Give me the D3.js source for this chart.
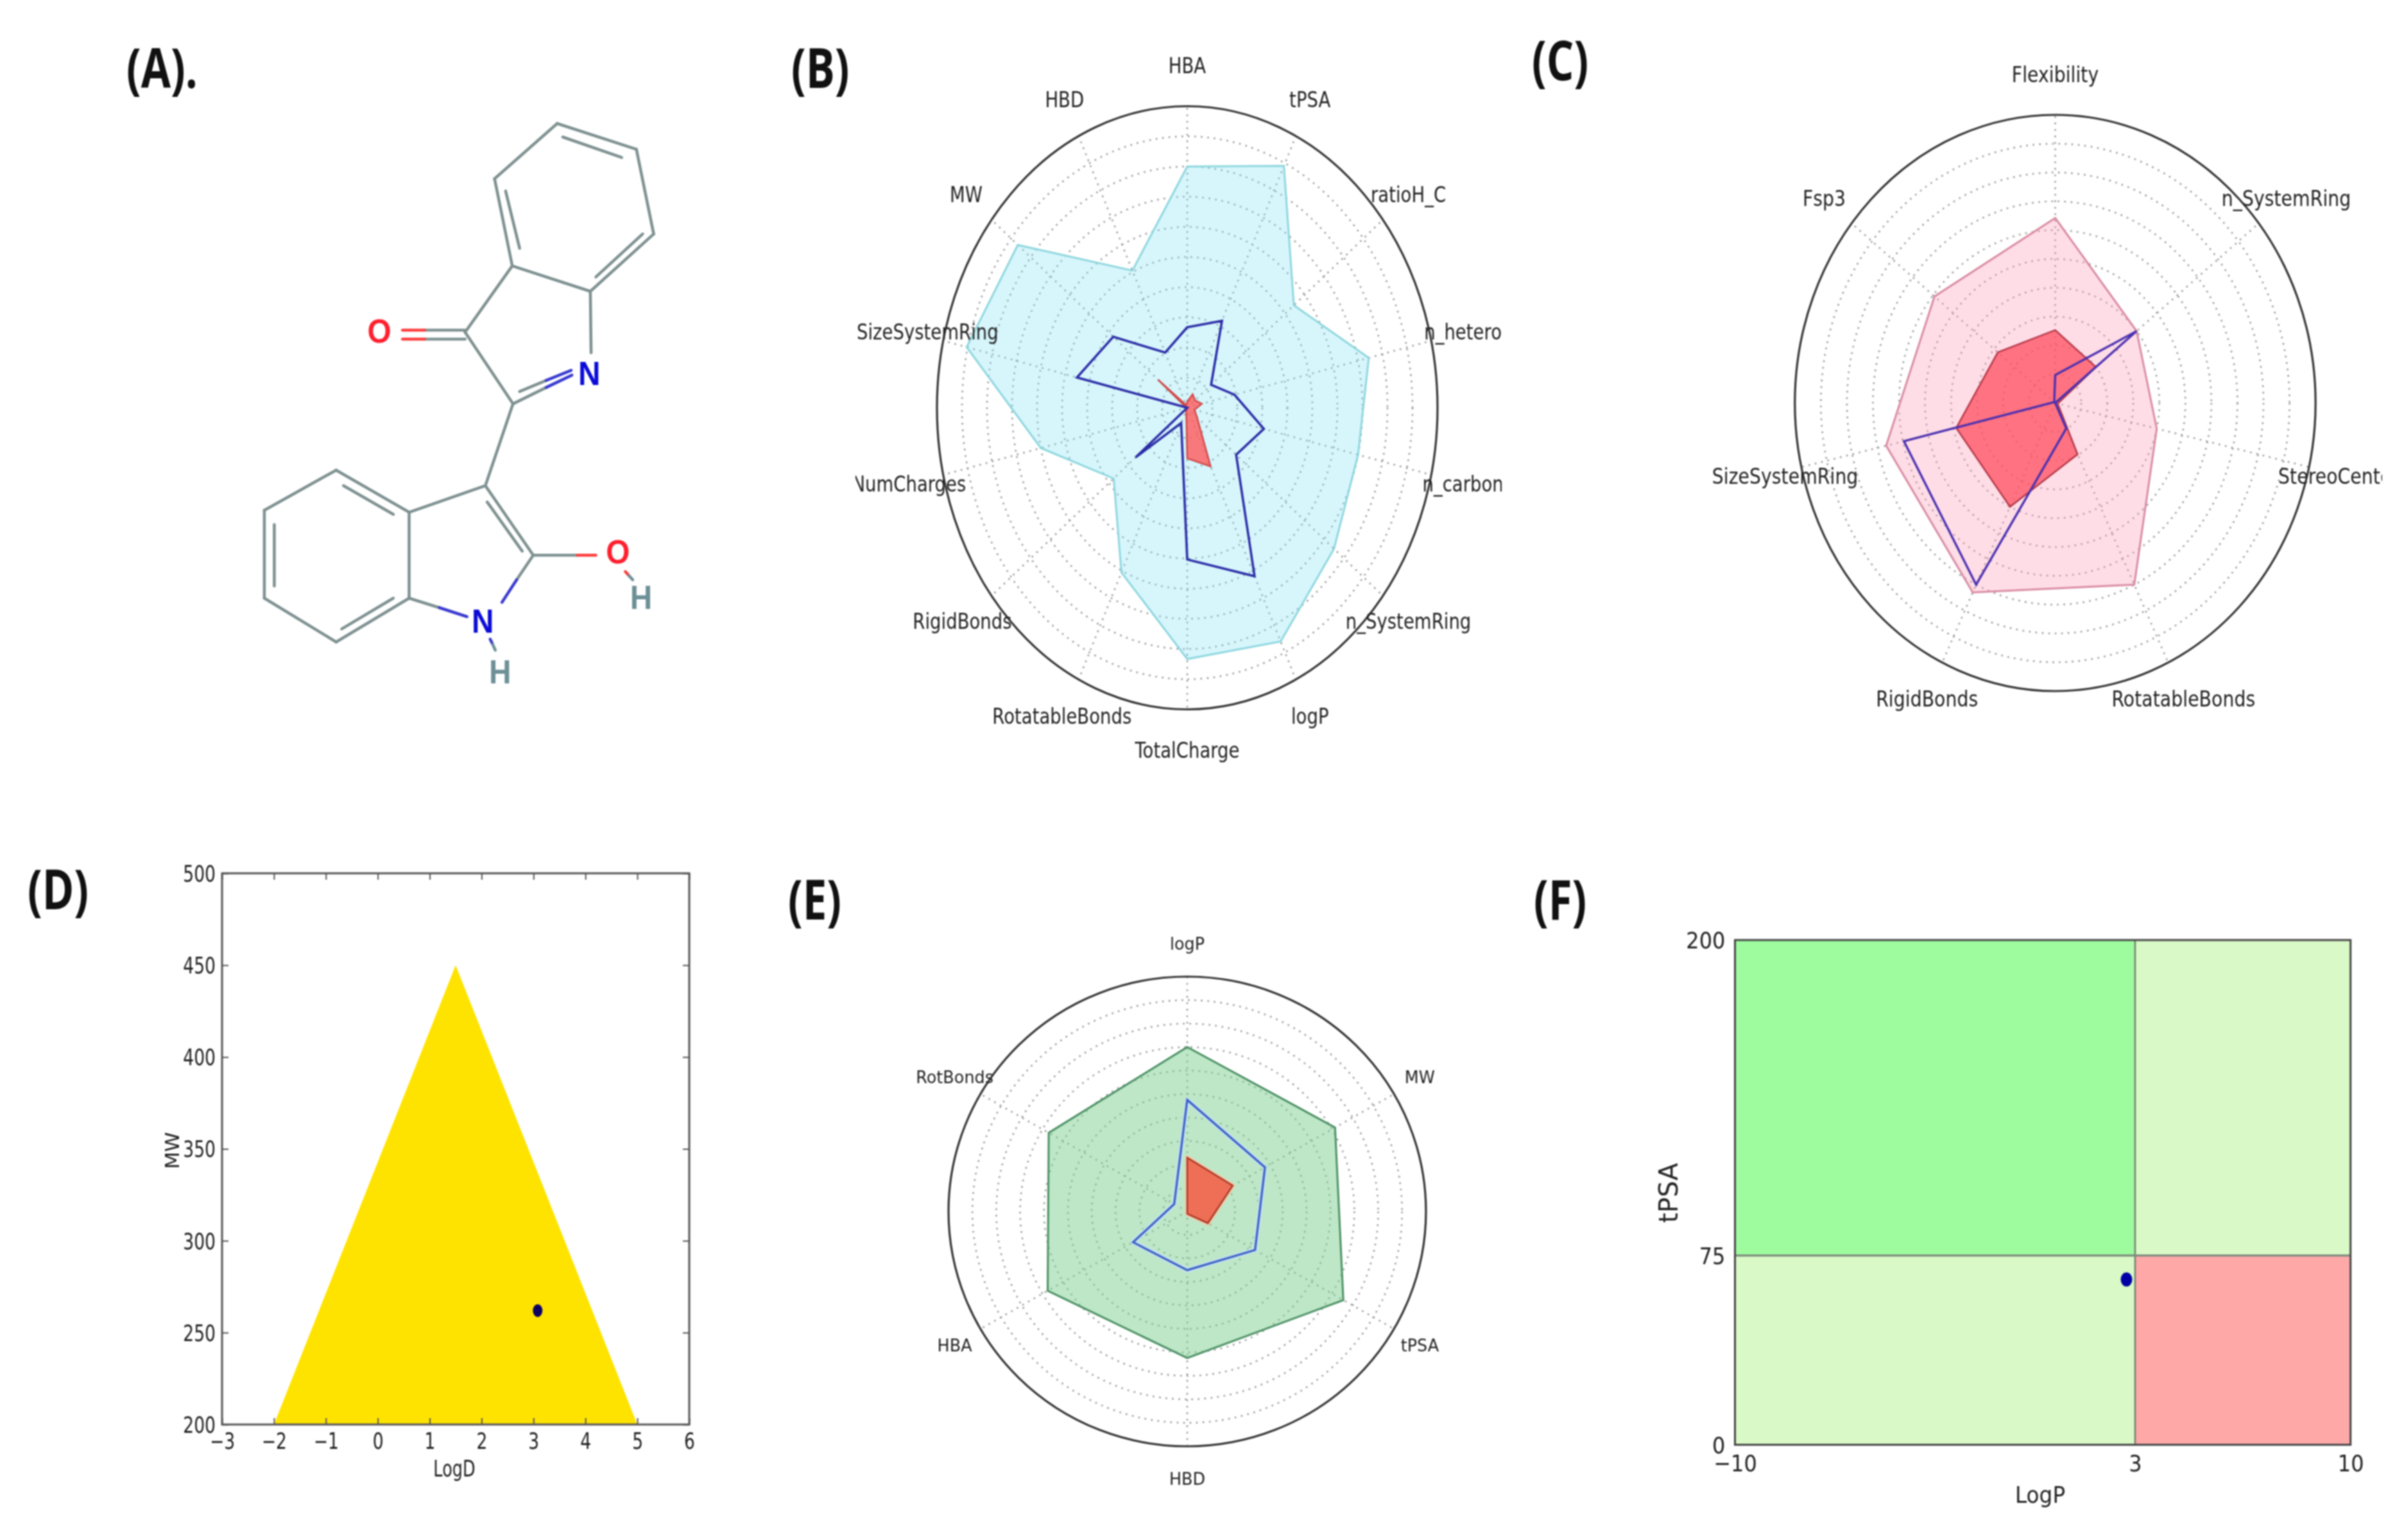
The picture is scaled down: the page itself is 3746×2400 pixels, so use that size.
<!DOCTYPE html>
<html><head><meta charset="utf-8">
<script src="https://cdn.jsdelivr.net/npm/d3@7"></script>
<style>
html,body{margin:0;padding:0;background:#fff}
svg{display:block;filter:blur(0.9px)}
text{font-family:"DejaVu Sans";fill:#222}
</style></head><body>
<svg id="c" width="3746" height="2400"></svg>
<script>
// ---------- data ----------
const ringTicks=[0.1,0.2,0.3,0.4,0.5,0.6,0.7,0.8,0.9];

const bLabels=["HBA","tPSA","ratioH_C","n_hetero","n_carbon","n_SystemRing","logP","TotalCharge","RotatableBonds","RigidBonds","NumCharges","SizeSystemRing","MW","HBD"];
const bUpper=[0.80,0.89,0.545,0.744,0.70,0.75,0.86,0.833,0.606,0.376,0.60,0.904,0.866,0.505];
const bMol  =[0.267,0.32,0.122,0.194,0.314,0.25,0.62,0.503,0.056,0.264,0.0,0.452,0.378,0.203];
const bLower=[0.02,0.05,0.04,0.06,0.03,0.05,0.216,0.168,0.01,0.0,0.0,0.005,0.15,0.01];

const cLabels=["Flexibility","n_SystemRing","StereoCenters","RotatableBonds","RigidBonds","SizeSystemRing","Fsp3"];
const cUpper=[0.642,0.40,0.40,0.70,0.73,0.666,0.593];
const cLower=[0.253,0.20,0.01,0.198,0.40,0.39,0.282];
const cMol  =[0.097,0.40,0.0,0.098,0.70,0.596,0.005];

const eLabels=["logP","MW","tPSA","HBD","HBA","RotBonds"];
const eUpper=[0.70,0.715,0.755,0.624,0.675,0.67];
const eMol  =[0.475,0.376,0.328,0.25,0.262,0.063];
const eLower=[0.229,0.22,0.10,0.01,0.0,0.0];

const dXTicks=[-3,-2,-1,0,1,2,3,4,5,6];
const dYTicks=[200,250,300,350,400,450,500];
const dTriX=[-2,1.5,5];
const dTriY=[200,450,200];
const dPointX=[3.08];
const dPointY=[262];

const fXTicks=[-10,3,10];
const fYTicks=[0,75,200];
const fPointX=[2.72];
const fPointY=[65.5];

const panelNames=["(A).","(B)","(C)","(D)","(E)","(F)"];

// molecule drawn in its own drawing units (0..1568)
const molBonds=[
 [990,145,1205,208],[1205,208,1252,415],[1252,415,1080,555],[1080,555,868,493],[868,493,820,280],[820,280,990,145],
 [1005,178,1165,228],[1222,415,1095,520],[850,310,888,450],
 [868,493,740,655],[740,655,870,830],[870,830,960,790],[1082,705,1080,555],
 [888,800,960,773],[740,650,630,650],[740,672,630,672],
 [870,830,795,1030],[795,1030,588,1095],[795,1030,925,1200],[800,1070,895,1190],
 [925,1200,880,1260],[588,1095,588,1305],[588,1305,670,1328],
 [588,1095,390,992],[390,992,195,1090],[195,1090,195,1305],[195,1305,390,1412],[390,1412,588,1305],
 [410,1030,545,1100],[222,1125,222,1275],[405,1380,545,1305],
 [925,1200,1045,1200]
];
const molBondsRed=[[630,650,570,650],[630,672,570,672],[1045,1200,1095,1200],[1175,1240,1185,1250]];
const molBondsBlue=[[960,790,1030,760],[960,773,1028,748],[880,1260,840,1315],[670,1328,745,1350],[808,1405,815,1418]];
const molBondsTeal=[[1185,1250,1195,1260],[815,1418,822,1432]];
const molAtoms=[["O",507,653,"#ff1f2e"],["N",1077,757,"#0b0bd8"],["O",1155,1192,"#ff1f2e"],["H",1218,1303,"#6d9096"],["N",788,1362,"#0b0bd8"],["H",835,1485,"#6d9096"]];

// ---------- helpers ----------
const svg=d3.select("#c");
const defs=svg.append("defs");
function label(g,str,x,y,size,sx,opt={}){
  const t=g.append("text").text(str)
    .attr("transform",`translate(${x},${y}) rotate(${opt.rot||0}) scale(${sx},1)`)
    .attr("text-anchor",opt.anchor||"middle").attr("dominant-baseline","central")
    .attr("font-size",size);
  if(opt.weight)t.attr("font-weight",opt.weight);
  if(opt.family)t.style("font-family",opt.family);
  if(opt.fill)t.style("fill",opt.fill);
  return t;
}
function radar(p){
  const g=svg.append("g").attr("transform",`translate(${p.cx},${p.cy})`);
  const rx=d3.scaleLinear().domain([0,1]).range([0,p.rx]);
  const ry=d3.scaleLinear().domain([0,1]).range([0,p.ry]);
  const n=p.labels.length;
  const ang=d3.scaleLinear().domain([0,n]).range([0,2*Math.PI]);
  const px=(v,i)=>rx(v)*Math.sin(ang(i));
  const py=(v,i)=>-ry(v)*Math.cos(ang(i));
  const grid={stroke:"#9a9a9a","stroke-width":2.6,"stroke-dasharray":"2.6 7.5",fill:"none"};
  const gg=g.append("g").attr("class","grid");
  gg.selectAll("ellipse").data(ringTicks).join("ellipse")
    .attr("rx",d=>rx(d)).attr("ry",d=>ry(d)).attr("fill","none")
    .attr("stroke",grid.stroke).attr("stroke-width",grid["stroke-width"]).attr("stroke-dasharray",grid["stroke-dasharray"]);
  gg.selectAll("line").data(p.labels).join("line")
    .attr("x2",(d,i)=>px(1,i)).attr("y2",(d,i)=>py(1,i))
    .attr("stroke",grid.stroke).attr("stroke-width",grid["stroke-width"]).attr("stroke-dasharray",grid["stroke-dasharray"]);
  const line=d3.line().x((d,i)=>px(d,i)).y((d,i)=>py(d,i)).curve(d3.curveLinearClosed);
  p.series.forEach(s=>{
    if(s.halo)g.append("path").attr("d",line(s.values)).attr("fill","none").attr("stroke",s.halo).attr("stroke-width",s.haloW||9).attr("stroke-linejoin","round");
    g.append("path").attr("d",line(s.values)).attr("fill",s.fill||"none").attr("fill-opacity",s.op==null?1:s.op)
      .attr("stroke",s.stroke).attr("stroke-width",s.w).attr("stroke-linejoin","miter");
  });
  g.append("ellipse").attr("rx",rx(1)).attr("ry",ry(1)).attr("fill","none").attr("stroke","#333").attr("stroke-width",3.2);
  const id="clip"+p.id;
  defs.append("clipPath").attr("id",id).append("rect").attr("x",p.clip[0]-p.cx).attr("y",-p.cy).attr("width",p.clip[1]-p.clip[0]).attr("height",2400);
  const lg=g.append("g").attr("clip-path",`url(#${id})`);
  const nudge=p.nudge||{};
  p.labels.forEach((l,i)=>{
    label(lg,l,px(p.lx,i)+(nudge[l]||0),py(p.ly,i),p.font,p.sx);
  });
}

// ---------- panel letters ----------
const letterPos=[[197,104],[1233,104],[2387,92],[43,1384],[1228,1400],[2390,1400]];
panelNames.forEach((s,i)=>label(svg,s,letterPos[i][0],letterPos[i][1],86,0.78,{anchor:"start",weight:700,family:'"Open Sans"',fill:"#111"}).attr("transform",`translate(${letterPos[i][0]},${letterPos[i][1]}) scale(0.78,1)`));

// ---------- (A) molecule ----------
const mx=d3.scaleLinear().domain([0,1568]).range([300,1200]);
const my=d3.scaleLinear().domain([0,1568]).range([100,1100]);
const mg=svg.append("g");
function bonds(list,color){
  mg.selectAll(null).data(list).join("line")
    .attr("x1",d=>mx(d[0])).attr("y1",d=>my(d[1])).attr("x2",d=>mx(d[2])).attr("y2",d=>my(d[3]))
    .attr("stroke",color).attr("stroke-width",4.6).attr("stroke-linecap","round");
}
bonds(molBonds,"#7f9191");
bonds(molBondsRed,"#ff3b3b");
bonds(molBondsBlue,"#3a3ad0");
bonds(molBondsTeal,"#6d9096");
molAtoms.forEach(a=>label(mg,a[0],mx(a[1]),my(a[2]),52,0.92,{weight:700,family:'"Liberation Sans"',fill:a[3]}));

// ---------- (B) ----------
radar({id:"B",cx:1850,cy:635.5,rx:390,ry:470,labels:bLabels,lx:1.13,ly:1.135,font:34,sx:0.81,clip:[1333,2340],
  nudge:{SizeSystemRing:25,NumCharges:-4,RigidBonds:-6,RotatableBonds:-4},series:[
  {values:bUpper,fill:"#7fe3f5",op:0.32,stroke:"#8ed6de",w:3},
  {values:bLower,fill:"#ff5a5a",op:0.8,stroke:"#d04848",w:2.5},
  {values:bMol,stroke:"#2c2ca6",w:3.6}
]});

// ---------- (C) ----------
radar({id:"C",cx:3202.5,cy:628,rx:405.7,ry:449,labels:cLabels,lx:1.135,ly:1.14,font:33,sx:0.86,clip:[2640,3712],
  nudge:{SizeSystemRing:28},series:[
  {values:cUpper,fill:"#fb9cb8",op:0.34,stroke:"#d98aa2",w:3},
  {values:cLower,fill:"#ff4a5a",op:0.72,stroke:"#b5394a",w:2.6},
  {values:cMol,stroke:"#4a30b0",w:3.4}
]});

// ---------- (D) ----------
(function(){
  const L=346,R=1074,T=1361,B=2220;
  const x=d3.scaleLinear().domain([-3,6]).range([L,R]);
  const y=d3.scaleLinear().domain([200,500]).range([B,T]);
  const g=svg.append("g");
  g.append("path").attr("d",d3.line().x((d,i)=>x(dTriX[i])).y((d,i)=>y(d)).curve(d3.curveLinearClosed)(dTriY)).attr("fill","#ffe300");
  g.append("rect").attr("x",L).attr("y",T).attr("width",R-L).attr("height",B-T).attr("fill","none").attr("stroke","#555").attr("stroke-width",3);
  const styleAxis=(a)=>{a.select(".domain").remove();a.selectAll("line").attr("stroke","#555").attr("stroke-width",2);};
  const bx=g.append("g").attr("transform",`translate(0,${B})`).call(d3.axisBottom(x).tickValues(dXTicks).tickSize(-10).tickFormat(d=>d<0?"\u2212"+(-d):d));
  const lx=g.append("g").attr("transform",`translate(${L},0)`).call(d3.axisLeft(y).tickValues(dYTicks).tickSize(-10));
  g.append("g").attr("transform",`translate(0,${T})`).call(d3.axisTop(x).tickValues(dXTicks).tickSize(-10).tickFormat("")).call(styleAxis);
  g.append("g").attr("transform",`translate(${R},0)`).call(d3.axisRight(y).tickValues(dYTicks).tickSize(-10).tickFormat("")).call(styleAxis);
  styleAxis(bx);styleAxis(lx);
  bx.selectAll("text").attr("x",0).attr("y",0).attr("dy",null).attr("dominant-baseline","central").attr("font-size",35).attr("text-anchor","middle").attr("transform","translate(0,26) scale(0.76,1)").style("font-family",'"DejaVu Sans"').style("fill","#222");
  lx.selectAll("text").attr("x",0).attr("y",0).attr("dy",null).attr("dominant-baseline","central").attr("font-size",35).attr("text-anchor","end").attr("transform","translate(-10,0) scale(0.76,1)").style("font-family",'"DejaVu Sans"').style("fill","#222");
  g.selectAll(null).data(dPointX).join("ellipse").attr("cx",d=>x(d)).attr("cy",(d,i)=>y(dPointY[i])).attr("rx",7.5).attr("ry",10).attr("fill","#0d0062");
  label(g,"LogD",708,2289,35,0.73);
  label(g,"MW",268,1793,31,1,{rot:-90});
})();

// ---------- (E) ----------
radar({id:"E",cx:1850,cy:1888,rx:372,ry:366,labels:eLabels,lx:1.125,ly:1.14,font:26,sx:0.98,clip:[1380,2340],series:[
  {values:eUpper,fill:"#7bcf8f",op:0.5,stroke:"#4a8f63",w:3},
  {values:eMol,fill:"#cfe4f4",op:0.0,stroke:"#3a63c4",w:3.4,halo:"#c8e2f0",haloW:8},
  {values:eLower,fill:"#ee6f55",op:1,stroke:"#a83a28",w:2.6,halo:"#f9c9a8",haloW:7}
]});

// ---------- (F) ----------
(function(){
  const L=2703.5,R=3662.7,T=1465,B=2251.6;
  const x=d3.scaleLinear().domain([-10,10]).range([L,R]);
  const y=d3.scaleLinear().domain([0,200]).range([B,T]);
  const g=svg.append("g");
  const zones=[[-10,3,75,200,"#9efc9f"],[3,10,75,200,"#d9f9c6"],[-10,3,0,75,"#d9f9c6"],[3,10,0,75,"#ffa8a8"]];
  g.selectAll("rect.z").data(zones).join("rect").attr("class","z")
    .attr("x",d=>x(d[0])).attr("width",d=>x(d[1])-x(d[0])).attr("y",d=>y(d[3])).attr("height",d=>y(d[2])-y(d[3])).attr("fill",d=>d[4]);
  g.append("line").attr("x1",x(3)).attr("x2",x(3)).attr("y1",T).attr("y2",B).attr("stroke","#6d7a6d").attr("stroke-width",2.4);
  g.append("line").attr("x1",L).attr("x2",R).attr("y1",y(75)).attr("y2",y(75)).attr("stroke","#7d8a7d").attr("stroke-width",3.2);
  g.append("rect").attr("x",L).attr("y",T).attr("width",R-L).attr("height",B-T).attr("fill","none").attr("stroke","#444").attr("stroke-width",3);
  const bx=g.append("g").attr("transform",`translate(0,${B})`).call(d3.axisBottom(x).tickValues(fXTicks).tickSize(0).tickFormat(d=>d<0?"\u2212"+(-d):d));
  const lx=g.append("g").attr("transform",`translate(${L},0)`).call(d3.axisLeft(y).tickValues(fYTicks).tickSize(0));
  bx.select(".domain").remove();lx.select(".domain").remove();
  bx.selectAll("text").attr("x",0).attr("y",0).attr("dy",null).attr("dominant-baseline","central").attr("font-size",36).attr("text-anchor","middle").attr("transform","translate(0,29) scale(0.89,1)").style("font-family",'"DejaVu Sans"').style("fill","#222");
  lx.selectAll("text").attr("x",0).attr("y",0).attr("dy",null).attr("dominant-baseline","central").attr("font-size",36).attr("text-anchor","end").attr("transform","translate(-15,0) scale(0.89,1)").style("font-family",'"DejaVu Sans"').style("fill","#222");
  g.selectAll(null).data(fPointX).join("ellipse").attr("cx",d=>x(d)).attr("cy",(d,i)=>y(fPointY[i])).attr("rx",9).attr("ry",11).attr("fill","#0000a4");
  label(g,"LogP",3179,2329,36,0.91);
  label(g,"tPSA",2600,1859,40,1,{rot:-90});
})();
</script>
</body></html>
